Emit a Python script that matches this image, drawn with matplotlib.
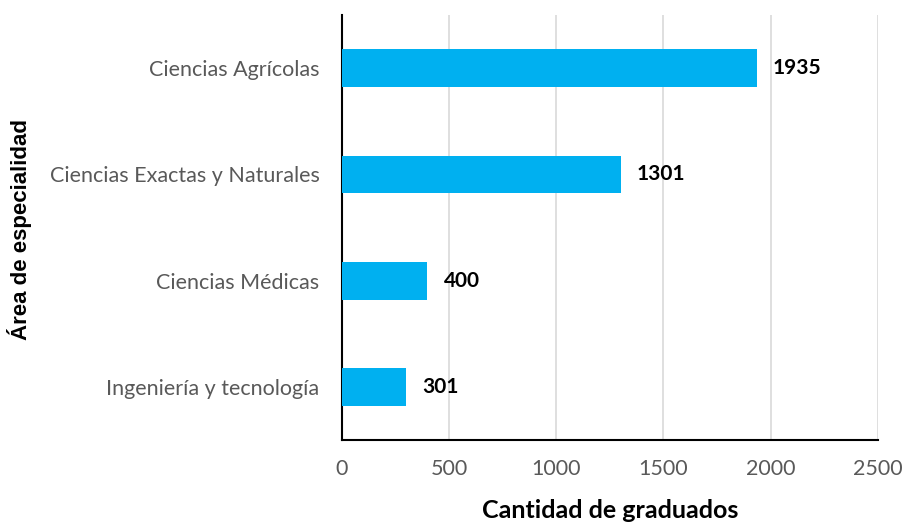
import matplotlib
matplotlib.use("Agg")
import matplotlib.pyplot as plt

categorias = ["Ciencias Agrícolas", "Ciencias Exactas y Naturales",
              "Ciencias Médicas", "Ingeniería y tecnología"]
graduados = [1935, 1301, 400, 301]
xticks = [0, 500, 1000, 1500, 2000, 2500]

plt.rcParams['font.family'] = ['Lato', 'DejaVu Sans']

fig = plt.figure(figsize=(9.04, 5.22), dpi=100)
ax = fig.add_axes([0.378, 0.157, 0.593, 0.814])

pos = list(range(len(categorias)))[::-1]
ax.barh(pos, graduados, height=0.355, color='#00B0F0', zorder=3)

for p, v in zip(pos, graduados):
    ax.text(v + 75, p, str(v), va='center', ha='left', fontsize=15,
            fontweight='bold', color='black')

ax.set_xlim(0, 2500)
ax.set_ylim(-0.5, 3.5)
ax.set_xticks(xticks)
ax.set_xticklabels([str(t) for t in xticks])
ax.set_yticks(pos)
ax.set_yticklabels(categorias)
ax.tick_params(length=0, labelsize=15.5, colors='#595959')
ax.tick_params(axis='y', pad=16)
ax.tick_params(axis='x', pad=14)

ax.grid(axis='x', color='#D9D9D9', linewidth=1.2, zorder=0)
for s in ['top', 'right']:
    ax.spines[s].set_visible(False)
for s in ['left', 'bottom']:
    ax.spines[s].set_color('black')
    ax.spines[s].set_linewidth(1.5)

fig.text(0.675, 0.008, 'Cantidad de graduados', ha='center', va='baseline',
         fontsize=18, fontweight='bold')
fig.text(0.022, 0.561, 'Área de especialidad', rotation=90, ha='center',
         va='center', fontsize=16, fontweight='bold',
         family=['Liberation Sans', 'DejaVu Sans'])

fig.savefig('out.png', dpi=100)
